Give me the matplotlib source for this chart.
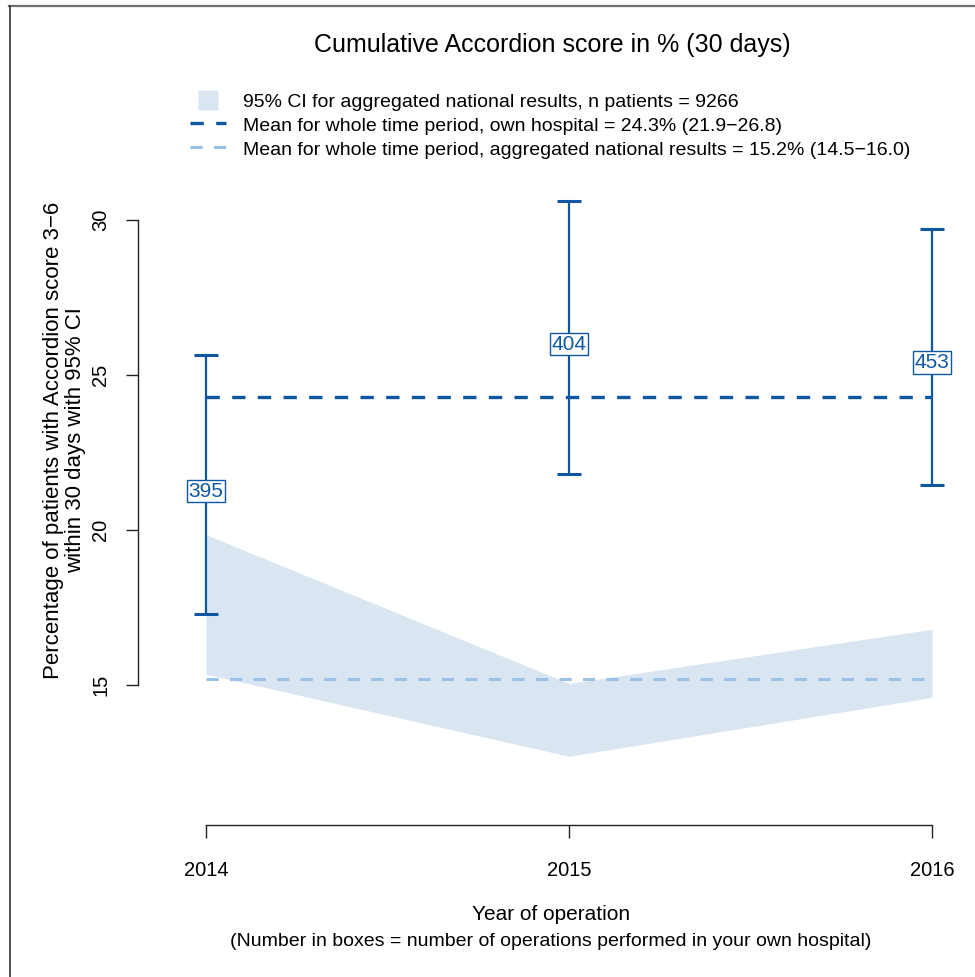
import matplotlib
matplotlib.use("Agg")
import matplotlib.pyplot as plt
from matplotlib.lines import Line2D

plt.rcParams['font.family'] = ['Liberation Sans', 'DejaVu Sans']

years = [2014, 2015, 2016]
own_est = [21.25, 26.0, 25.4]
own_low = [17.3, 21.8, 21.45]
own_high = [25.65, 30.6, 29.7]
n_ops = [395, 404, 453]
nat_low = [15.35, 12.7, 14.6]
nat_high = [19.85, 15.05, 16.8]
own_mean = 24.3
nat_mean = 15.2
n_patients = 9266

dark = '#0F56A3'
light = '#9DC0E6'
band = '#D9E6F2'

W, H = 975, 977
fig = plt.figure(figsize=(W / 100, H / 100), dpi=100)
# axes in pixel terms: x 138..964, y 55..825
ax = fig.add_axes([138 / W, 1 - 825 / H, (964 - 138) / W, (825 - 55) / H])
ax.set_xlim(2014 - 68 / 363, 2016 + 32 / 363)
ax.set_ylim(30 - 605 / 31, 30 + 165 / 31)

ax.fill_between(years, nat_low, nat_high, color=band, lw=0, zorder=1)
ax.plot([years[0], years[-1]], [nat_mean, nat_mean], color=light, lw=2.2,
        dashes=(4, 3.7), zorder=2)
ax.plot([years[0], years[-1]], [own_mean, own_mean], color=dark, lw=2.4,
        dashes=(4, 3.7), zorder=3)

yerr = [[e - l for e, l in zip(own_est, own_low)],
        [h - e for e, h in zip(own_est, own_high)]]
ax.errorbar(years, own_est, yerr=yerr, fmt='none', ecolor=dark, elinewidth=1.6,
            capsize=8.5, capthick=2.2, zorder=4)
for x, y, n in zip(years, own_est, n_ops):
    ax.text(x, y, str(n), ha='center', va='center', fontsize=15, color=dark,
            zorder=5,
            bbox=dict(boxstyle='square,pad=0.08', fc='white', ec=dark, lw=1.0))

for s in ['top', 'right']:
    ax.spines[s].set_visible(False)
ax.spines['left'].set_bounds(15, 30)
ax.spines['bottom'].set_bounds(2014, 2016)
for s in ['left', 'bottom']:
    ax.spines[s].set_linewidth(1.0)
    ax.spines[s].set_color('#222222')
ax.set_xticks(years)
ax.set_xticklabels([str(y) for y in years], fontsize=14.5)
ax.set_yticks([15, 20, 25, 30])
ax.set_yticklabels(['15', '20', '25', '30'], fontsize=14.5, rotation=90, va='center')
ax.tick_params(axis='both', direction='out', length=9, width=1.0, color='#222222')
ax.tick_params(axis='x', pad=17)
ax.tick_params(axis='y', pad=11)

ax.set_ylabel('Percentage of patients with Accordion score 3\u22126\nwithin 30 days with 95% CI',
              fontsize=16, labelpad=4, linespacing=1.05)
fig.text(551 / W, 1 - 915 / H, 'Year of operation', ha='center', va='center', fontsize=15)
fig.text(551 / W, 1 - 941 / H,
         '(Number in boxes = number of operations performed in your own hospital)',
         ha='center', va='center', fontsize=14)
fig.text(552 / W, 1 - 45 / H, 'Cumulative Accordion score in % (30 days)',
         ha='center', va='center', fontsize=18)

handles = [Line2D([], [], ls='none', marker='s', markersize=14.5, color=band, mec='none'),
           Line2D([], [], color=dark, lw=2.4, dashes=(4, 3.7)),
           Line2D([], [], color=light, lw=2.2, dashes=(4, 3.7))]
labels = ['95% CI for aggregated national results, n patients = ' + str(n_patients),
          'Mean for whole time period, own hospital = 24.3% (21.9\u221226.8)',
          'Mean for whole time period, aggregated national results = 15.2% (14.5\u221216.0)']
leg = fig.legend(handles, labels, loc='upper left', bbox_to_anchor=(190 / W, 1 - 92 / H),
                 frameon=False, fontsize=14, handlelength=1.85, handleheight=1.0,
                 handletextpad=0.9, labelspacing=0.22, borderaxespad=0, borderpad=0)

# outer frame (top and left edges visible)
fig.add_artist(Line2D([9 / W, 1], [1 - 6 / H, 1 - 6 / H], color='#707070', lw=1.6,
                      transform=fig.transFigure))
fig.add_artist(Line2D([9.5 / W, 9.5 / W], [0, 1 - 6 / H], color='#333333', lw=1.2,
                      transform=fig.transFigure))

fig.savefig('out.png', dpi=100)
